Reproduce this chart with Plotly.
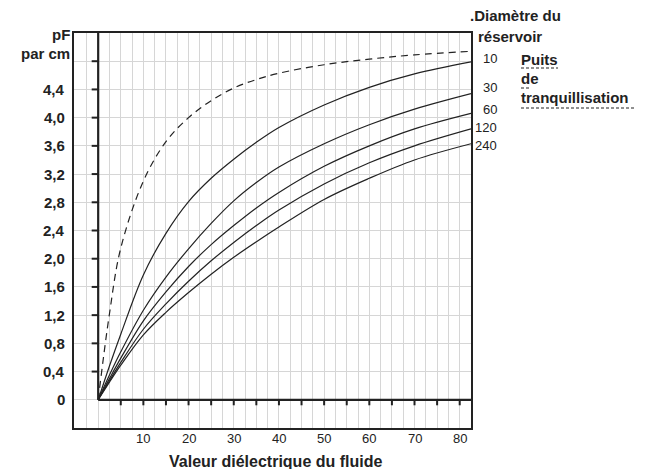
import plotly.graph_objects as go

# ---------------- data ----------------
dielectric = [0, 2.5, 5, 10, 15, 20, 25, 30, 35, 40, 50, 60, 70, 82.5]
stilling_well = [0, 1.22, 2.15, 3.1, 3.66, 4.0, 4.24, 4.42, 4.54, 4.63, 4.75, 4.83, 4.89, 4.94]
tank_10 = [0, 0.48, 0.93, 1.77, 2.36, 2.81, 3.14, 3.41, 3.65, 3.86, 4.18, 4.43, 4.62, 4.79]
tank_30 = [0, 0.35, 0.68, 1.27, 1.74, 2.14, 2.5, 2.82, 3.08, 3.3, 3.63, 3.9, 4.12, 4.34]
tank_60 = [0, 0.30, 0.59, 1.12, 1.53, 1.89, 2.2, 2.47, 2.72, 2.94, 3.31, 3.6, 3.84, 4.06]
tank_120 = [0, 0.27, 0.53, 1.0, 1.36, 1.68, 1.97, 2.23, 2.47, 2.69, 3.06, 3.36, 3.6, 3.84]
tank_240 = [0, 0.25, 0.49, 0.92, 1.24, 1.52, 1.78, 2.02, 2.24, 2.45, 2.84, 3.14, 3.40, 3.63]
tank_labels = ["10", "30", "60", "120", "240"]

y_tick_values = [0, 0.4, 0.8, 1.2, 1.6, 2.0, 2.4, 2.8, 3.2, 3.6, 4.0, 4.4]
y_tick_labels = ["0", "0,4", "0,8", "1,2", "1,6", "2,0", "2,4", "2,8", "3,2", "3,6", "4,0", "4,4"]
y_minor_ticks = [0.4, 0.8, 1.2, 1.6, 2.0, 2.4, 2.8, 3.2, 3.6, 4.0, 4.4, 4.8]
x_tick_values = [10, 20, 30, 40, 50, 60, 70, 80]
x_tick_labels = ["10", "20", "30", "40", "50", "60", "70", "80"]
x_minor_ticks = [5, 10, 15, 20, 25, 30, 35, 40, 45, 50, 55, 60, 65, 70, 75, 80]

x_title = "Valeur diélectrique du fluide"
y_title_lines = ["pF", "par cm"]
legend_title = [".Diamètre du", "réservoir"]
well_lines = ["Puits", "de", "tranquillisation"]

# ---------------- layout helpers ----------------
W, H = 650, 469
L, R, T, B = 74, 179, 33, 41
PW, PH = W - L - R, H - T - B
X_RANGE = [-5.35, 82.5]
Y_RANGE = [-0.4, 5.2]

def px(x):
    return (x - L) / PW

def py(y):
    return (H - B - y) / PH

FONT = "Liberation Sans, Arial, Helvetica, sans-serif"
INK = "#222222"
GRID = "#d6d6d6"

fig = go.Figure()

fig.add_trace(go.Scatter(x=dielectric, y=stilling_well, mode="lines",
                         line=dict(color=INK, width=1.2, dash="7px,5px", shape="spline", smoothing=1.0),
                         hoverinfo="skip", showlegend=False))
for ys in [tank_10, tank_30, tank_60, tank_120, tank_240]:
    fig.add_trace(go.Scatter(x=dielectric, y=ys, mode="lines",
                             line=dict(color=INK, width=1.2, shape="spline", smoothing=1.0),
                             hoverinfo="skip", showlegend=False))

grid_x = [-2.5 + 2.5 * i for i in range(34)]
grid_y = [round(-0.4 + 0.4 * i, 2) for i in range(15)]

fig.update_xaxes(range=X_RANGE, tickmode="array", tickvals=grid_x, showticklabels=False,
                 showgrid=True, gridcolor=GRID, gridwidth=1, zeroline=False,
                 showline=True, mirror=True, linecolor=INK, linewidth=2, ticks="")
fig.update_yaxes(range=Y_RANGE, tickmode="array", tickvals=grid_y, showticklabels=False,
                 showgrid=True, gridcolor=GRID, gridwidth=1, zeroline=False,
                 showline=True, mirror=True, linecolor=INK, linewidth=2, ticks="")

shapes = []
# inner axes
shapes.append(dict(type="line", xref="x", yref="y", x0=0, x1=0, y0=0, y1=Y_RANGE[1],
                   line=dict(color=INK, width=2.2)))
shapes.append(dict(type="line", xref="x", yref="y", x0=0, x1=X_RANGE[1], y0=0, y1=0,
                   line=dict(color=INK, width=2.2)))
ytick_len = 6.5 / (PW / (X_RANGE[1] - X_RANGE[0]))
for v in y_minor_ticks:
    shapes.append(dict(type="line", xref="x", yref="y", x0=-ytick_len, x1=0, y0=v, y1=v,
                       line=dict(color=INK, width=2)))
xtick_len = 5.5 / (PH / (Y_RANGE[1] - Y_RANGE[0]))
for v in x_minor_ticks:
    shapes.append(dict(type="line", xref="x", yref="y", x0=v, x1=v, y0=0, y1=-xtick_len,
                       line=dict(color=INK, width=2)))

# dashed underlines for "Puits de tranquillisation"
underlines = [(521, 558, 68), (521, 530, 88), (521, 634, 108)]
for x0, x1, yy in underlines:
    shapes.append(dict(type="line", xref="paper", yref="paper", x0=px(x0), x1=px(x1),
                       y0=py(yy), y1=py(yy), line=dict(color=INK, width=1.2, dash="3px,2px")))

annotations = []
def ann(text, x, y, xanchor="center", yanchor="middle", size=15, bold=True, xref="paper", yref="paper", yshift=0):
    annotations.append(dict(text=("<b>%s</b>" % text) if bold else text, x=x, y=y, xref=xref, yref=yref,
                            xanchor=xanchor, yanchor=yanchor, showarrow=False, yshift=yshift,
                            font=dict(family=FONT, size=size, color=INK)))

for v, t in zip(y_tick_values, y_tick_labels):
    ann(t, px(67), v, xanchor="right", yref="y")
ann(y_title_lines[0], px(72), py(34), xanchor="right")
ann(y_title_lines[1], px(72), py(53), xanchor="right")

for v, t in zip(x_tick_values, x_tick_labels):
    ann(t, v, py(438.5), xref="x", size=13, bold=False)
ann(x_title, px(275), py(461), size=16)

ann(legend_title[0], px(468), py(16), xanchor="left")
ann(legend_title[1], px(476), py(36), xanchor="left")

label_shift = [3, 6, 4, 1, -2]
ends = [tank_10[-1], tank_30[-1], tank_60[-1], tank_120[-1], tank_240[-1]]
for t, e, s in zip(tank_labels, ends, label_shift):
    ann(t, px(499), e, xanchor="right", yref="y", size=13, bold=False, yshift=s)

well_y = [59, 79, 97]
for t, yy in zip(well_lines, well_y):
    ann(t, px(519), py(yy), xanchor="left")

fig.update_layout(width=W, height=H, margin=dict(l=L, r=R, t=T, b=B, autoexpand=False),
                  paper_bgcolor="white", plot_bgcolor="white",
                  shapes=shapes, annotations=annotations, showlegend=False,
                  font=dict(family=FONT, color=INK))

fig.write_html("out.html", config={"displayModeBar": False},
               post_script="document.body.style.margin='0px';document.body.style.padding='0px';"
                           "document.body.style.overflow='hidden';")
